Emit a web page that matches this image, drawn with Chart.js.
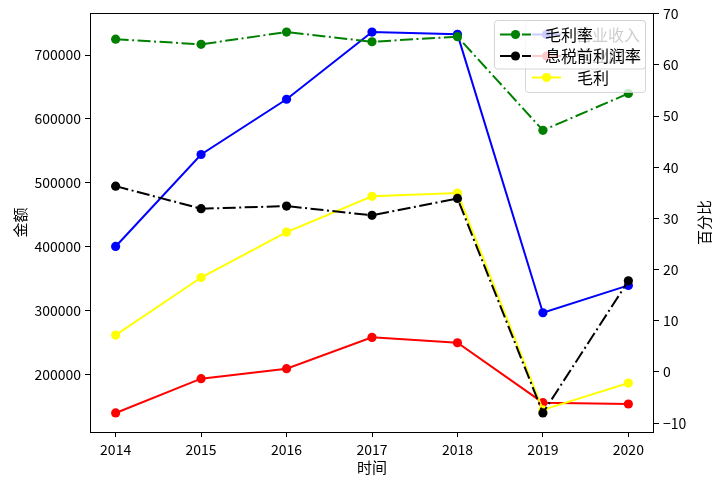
<!DOCTYPE html>
<html>
<head>
<meta charset="utf-8">
<script src="https://cdn.jsdelivr.net/npm/chart.js@4/dist/chart.umd.min.js"></script>
<style>
  body { margin: 0; background: #fff; }
  canvas { display: block; }
</style>
</head>
<body>
<canvas id="chart1" width="720" height="489"></canvas>
<script>
// data
var years = [2014, 2015, 2016, 2017, 2018, 2019, 2020];
var revenue = [400600, 544400, 630800, 735900, 732300, 296900, 339700];      // 营业收入
var cost = [140200, 193800, 209400, 258400, 250000, 156300, 154200];         // 营业成本
var grossProfit = [262000, 352000, 423000, 479000, 484000, 145000, 187000];  // 毛利
var grossMargin = [65.0, 64.0, 66.4, 64.5, 65.5, 47.2, 54.4];                // 毛利率
var ebitMargin = [36.3, 31.9, 32.4, 30.6, 33.9, -8.0, 17.8];                 // 息税前利润率

var leftTicks = [200000, 300000, 400000, 500000, 600000, 700000];
var rightTicks = [-10, 0, 10, 20, 30, 40, 50, 60, 70];

var leftLabels = ['营业收入', '营业成本', '毛利'];
var rightLabels = ['毛利率', '息税前利润率'];

var FONT = '"Noto Sans CJK SC", "DejaVu Sans", sans-serif';
var DASHDOT = [13, 3.5, 2, 3.5];

function pts(arr) {
  return arr.map((v, i) => ({ x: years[i], y: v }));
}

// matplotlib style 5% margins
function padRange(arrs) {
  var all = [].concat.apply([], arrs);
  var lo = Math.min.apply(null, all), hi = Math.max.apply(null, all);
  var m = (hi - lo) * 0.05;
  return [lo - m, hi + m];
}
var leftRange = padRange([revenue, cost, grossProfit]);
var rightRange = padRange([grossMargin, ebitMargin]);
var xPad = (years[years.length - 1] - years[0]) * 0.05;

function line(label, data, color, axis, dash) {
  return {
    label: label,
    data: pts(data),
    yAxisID: axis,
    borderColor: color,
    backgroundColor: color,
    pointBackgroundColor: color,
    pointBorderWidth: 0,
    pointRadius: 4.6,
    borderWidth: 2,
    borderDash: dash || [],
    tension: 0,
    fill: false
  };
}

function legendBox(ctx, x, y, w, h) {
  ctx.beginPath();
  ctx.roundRect(x, y, w, h, 3);
  ctx.fillStyle = 'rgba(255,255,255,0.8)';
  ctx.fill();
  ctx.strokeStyle = 'rgba(204,204,204,0.8)';
  ctx.lineWidth = 1;
  ctx.stroke();
}

function legendRow(ctx, x0, x1, y, color, dash, label, tx) {
  ctx.save();
  ctx.strokeStyle = color;
  ctx.lineWidth = 2;
  ctx.setLineDash(dash);
  ctx.beginPath();
  ctx.moveTo(x0, y);
  ctx.lineTo(x1, y);
  ctx.stroke();
  ctx.setLineDash([]);
  ctx.fillStyle = color;
  ctx.beginPath();
  ctx.arc((x0 + x1) / 2, y, 4.6, 0, Math.PI * 2);
  ctx.fill();
  ctx.fillStyle = '#000';
  ctx.font = '16px ' + FONT;
  ctx.textBaseline = 'middle';
  ctx.textAlign = 'left';
  ctx.fillText(label, tx, y);
  ctx.restore();
}

var decor = {
  id: 'decor',
  afterDraw(chart) {
    var ctx = chart.ctx, a = chart.chartArea;
    ctx.save();
    // axes frame
    ctx.strokeStyle = '#000';
    ctx.lineWidth = 1;
    ctx.strokeRect(Math.round(a.left) + 0.5, Math.round(a.top) + 0.5,
      Math.round(a.right - a.left) - 1, Math.round(a.bottom - a.top));

    // axis titles
    ctx.fillStyle = '#000';
    ctx.font = '15px ' + FONT;
    ctx.textAlign = 'center';
    ctx.textBaseline = 'middle';
    ctx.fillText('时间', (a.left + a.right) / 2, 467);
    ctx.save();
    ctx.translate(20, (a.top + a.bottom) / 2);
    ctx.rotate(-Math.PI / 2);
    ctx.fillText('金额', 0, 0);
    ctx.restore();
    ctx.save();
    ctx.translate(704, (a.top + a.bottom) / 2);
    ctx.rotate(-Math.PI / 2);
    ctx.fillText('百分比', 0, 0);
    ctx.restore();

    // legend of the left axis (underneath)
    legendBox(ctx, 525.5, 20.5, 120, 72);
    legendRow(ctx, 532, 561, 34.5, 'blue', [], leftLabels[0], 576);
    legendRow(ctx, 532, 561, 56, 'red', [], leftLabels[1], 576);
    legendRow(ctx, 532, 561, 77.5, 'yellow', [], leftLabels[2], 577);

    // legend of the right axis (on top)
    legendBox(ctx, 494.5, 20.5, 151, 48.5);
    legendRow(ctx, 500, 531, 34.5, 'green', DASHDOT, rightLabels[0], 545);
    legendRow(ctx, 500, 531, 56, 'black', DASHDOT, rightLabels[1], 545);
    ctx.restore();
  }
};

var tickFont = { family: FONT, size: 14 };
function fmt(v) {
  return String(v).replace('-', '\u2212');
}
function axisGrid() {
  return { drawOnChartArea: false, drawTicks: true, tickLength: 5, tickColor: '#000' };
}

var chart = new Chart(document.getElementById('chart1').getContext('2d'), {
  type: 'line',
  data: {
    datasets: [
      line(rightLabels[1], ebitMargin, 'black', 'y1', DASHDOT),
      line(rightLabels[0], grossMargin, 'green', 'y1', DASHDOT),
      line(leftLabels[2], grossProfit, 'yellow', 'y'),
      line(leftLabels[1], cost, 'red', 'y'),
      line(leftLabels[0], revenue, 'blue', 'y')
    ]
  },
  options: {
    responsive: false,
    animation: false,
    devicePixelRatio: 1,
    layout: { padding: { left: 0, right: 0, top: 13, bottom: 0 } },
    plugins: {
      legend: { display: false },
      tooltip: { enabled: false }
    },
    scales: {
      x: {
        type: 'linear',
        min: years[0] - xPad,
        max: years[years.length - 1] + xPad,
        afterFit: s => { s.height = 57; },
        afterBuildTicks: s => { s.ticks = years.map(v => ({ value: v })); },
        border: { display: false },
        grid: axisGrid(),
        ticks: { color: '#000', font: tickFont, padding: 4, maxRotation: 0, autoSkip: false, callback: fmt }
      },
      y: {
        position: 'left',
        min: leftRange[0],
        max: leftRange[1],
        afterFit: s => { s.width = 90; },
        afterBuildTicks: s => { s.ticks = leftTicks.map(v => ({ value: v })); },
        border: { display: false },
        grid: axisGrid(),
        ticks: { color: '#000', font: tickFont, padding: 4, autoSkip: false, callback: fmt }
      },
      y1: {
        position: 'right',
        min: rightRange[0],
        max: rightRange[1],
        afterFit: s => { s.width = 66; },
        afterBuildTicks: s => { s.ticks = rightTicks.map(v => ({ value: v })); },
        border: { display: false },
        grid: axisGrid(),
        ticks: { color: '#000', font: tickFont, padding: 4, autoSkip: false, callback: fmt }
      }
    }
  },
  plugins: [decor]
});
</script>
</body>
</html>
